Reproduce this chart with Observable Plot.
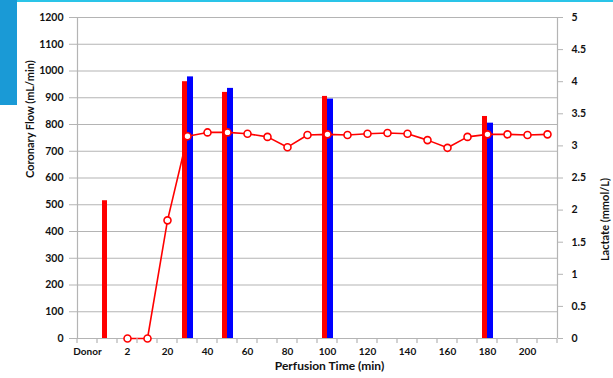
<!DOCTYPE html>
<html>
<head>
<meta charset="utf-8">
<script src="https://cdn.jsdelivr.net/npm/d3@7"></script>
<script src="https://cdn.jsdelivr.net/npm/@observablehq/plot@0.6"></script>
<style>
  html, body { margin: 0; padding: 0; background: #fff; }
  #wrap { position: relative; width: 613px; height: 378px; overflow: hidden; }
  #tab { position: absolute; left: 0; top: 0; width: 17px; height: 105px; background: #1a9ad6; }
  #topline { position: absolute; left: 17px; top: 0; width: 596px; height: 2px; background: #2ac4e8; }
  svg { position: absolute; left: 0; top: 0; }
</style>
</head>
<body>
<div id="wrap"><div id="tab"></div><div id="topline"></div></div>
<script>
// Categories on the perfusion-time axis (Excel-style category axis)
const categories = ["Donor", "0", "2", "10", "20", "30", "40", "50", "60", "70", "80", "90",
  "100", "110", "120", "130", "140", "150", "160", "170", "180", "190", "200", "210"];

// Coronary flow (mL/min), two series (red, blue)
const flowRedCats = ["0", "30", "50", "100", "180"];
const flowRed = [515, 960, 920, 905, 830];
const flowBlueCats = ["30", "50", "100", "180"];
const flowBlue = [978, 935, 895, 805];

// Lactate (mmol/L)
const lactateCats = ["2", "10", "20", "30", "40", "50", "60", "70", "80", "90", "100", "110",
  "120", "130", "140", "150", "160", "170", "180", "190", "200", "210"];
const lactate = [0, 0, 1.84, 3.15, 3.21, 3.21, 3.19, 3.14, 2.98, 3.17, 3.18, 3.17,
  3.19, 3.20, 3.19, 3.09, 2.97, 3.14, 3.18, 3.18, 3.17, 3.18];

const leftTicks = [0, 100, 200, 300, 400, 500, 600, 700, 800, 900, 1000, 1100, 1200];
const rightTicks = [0, 0.5, 1, 1.5, 2, 2.5, 3, 3.5, 4, 4.5, 5];
const ratio = 1200 / 5;

const redData = flowRedCats.map((c, i) => ({cat: c, v: flowRed[i]}));
const blueData = flowBlueCats.map((c, i) => ({cat: c, v: flowBlue[i]}));
const lacData = lactateCats.map((c, i) => ({cat: c, v: lactate[i]}));

const font = "Lato, 'Open Sans', sans-serif";

const chart = Plot.plot({
  width: 613,
  height: 378,
  marginLeft: 77,
  marginRight: 56,
  marginTop: 17,
  marginBottom: 40,
  style: {fontFamily: font, fontSize: "10.5px", fontWeight: "bold", color: "#111", background: "transparent"},
  x: {type: "band", domain: categories, padding: 0, label: null},
  y: {domain: [0, 1200], label: null},
  marks: [
    Plot.gridY(leftTicks, {stroke: "#b4b4b4", strokeOpacity: 1, strokeWidth: 1.2}),
    Plot.barY(redData, {x: "cat", y: "v", fill: "#ff0000", insetLeft: 5, insetRight: 10}),
    Plot.barY(blueData, {x: "cat", y: "v", fill: "#0000ff", insetLeft: 10, insetRight: 4}),
    Plot.ruleX([0], {x: () => categories[0], dx: -10, y1: 0, y2: 1200, stroke: "#b4b4b4", strokeWidth: 1.2}),
    Plot.ruleX([0], {x: () => categories[categories.length - 1], dx: 10, y1: 0, y2: 1200, stroke: "#b4b4b4", strokeWidth: 1.2}),
    Plot.ruleY([0], {stroke: "#b4b4b4", strokeWidth: 1.2}),
    Plot.line(lacData, {x: "cat", y: d => d.v * ratio, stroke: "#ff0000", strokeWidth: 1.6}),
    Plot.dot(lacData, {x: "cat", y: d => d.v * ratio, r: 3.5, fill: "#fff", stroke: "#ff0000", strokeWidth: 1.6}),
    Plot.axisY(leftTicks, {anchor: "left", tickFormat: d => String(d), tickSize: 8, tickPadding: 6, stroke: "#b4b4b4", label: null}),
    Plot.axisY(rightTicks.map(d => d * ratio), {anchor: "right", tickFormat: d => String(+(d / ratio).toFixed(1)), tickSize: 5, tickPadding: 9, stroke: "#b4b4b4", label: null}),
    Plot.axisX(categories, {tickSize: 0, tickPadding: 9, fontSize: 10, tickFormat: (d, i) => (i % 2 === 0 ? d : ""), label: null}),
    Plot.text(["Coronary Flow (mL/min)"], {frameAnchor: "left", dx: -47, rotate: -90, fontSize: 11, fontWeight: "bold"}),
    Plot.text(["Lactate (mmol/L)"], {frameAnchor: "right", dx: 48, rotate: -90, fontSize: 11, fontWeight: "bold"}),
    Plot.text(["Perfusion Time (min)"], {frameAnchor: "bottom", dy: 31, dx: 12, fontSize: 12, fontWeight: "bold"})
  ]
});

// x-axis tick marks at category boundaries (drawn via the band scale)
const xs = chart.scale("x");
const ys = chart.scale("y");
const g = d3.select(chart).append("g").attr("stroke", "#b4b4b4").attr("stroke-width", 1.2);
categories.concat(["__end"]).forEach((c, i) => {
  const x0 = i < categories.length ? xs.apply(c) : xs.apply(categories[categories.length - 1]) + xs.bandwidth;
  g.append("line").attr("x1", x0).attr("x2", x0).attr("y1", ys.apply(0)).attr("y2", ys.apply(0) + 5);
});

document.getElementById("wrap").appendChild(chart);
</script>
</body>
</html>
